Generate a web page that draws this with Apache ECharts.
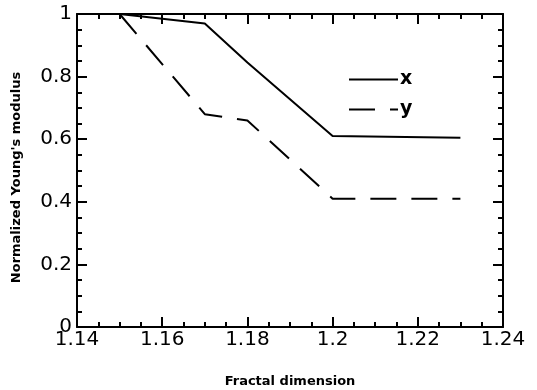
<!DOCTYPE html>
<html>
<head>
<meta charset="utf-8">
<script src="https://cdn.jsdelivr.net/npm/echarts@6/dist/echarts.min.js"></script>
<style>
  html, body { margin: 0; padding: 0; background: #fff; }
  #chart { width: 537px; height: 390px; }
</style>
</head>
<body>
<div id="chart"></div>
<script>
// 数据 - values
const xSeriesX = [1.15, 1.17, 1.18, 1.2, 1.23];
const xSeriesY = [1.0, 0.97, 0.845, 0.61, 0.605];
const ySeriesX = [1.15, 1.17, 1.18, 1.2, 1.23];
const ySeriesY = [1.0, 0.68, 0.66, 0.41, 0.41];

const xMin = 1.14, xMax = 1.24, xStep = 0.02;
const yMin = 0, yMax = 1, yStep = 0.2;

const font = 'DejaVu Sans';

const pairs = (xs, ys) => xs.map((v, i) => [v, ys[i]]);

// common axis style: thick black line, ticks pointing inward
const axisBase = {
  axisLine: { show: true, onZero: false, lineStyle: { color: '#000', width: 2 } },
  axisTick: { show: true, inside: true, length: 10, lineStyle: { color: '#000', width: 2 } },
  minorTick: { show: true, splitNumber: 4, length: 5, lineStyle: { color: '#000', width: 2 } },
  splitLine: { show: false },
  minorSplitLine: { show: false }
};

const chart = echarts.init(document.getElementById('chart'));
chart.setOption({
  animation: false,
  backgroundColor: '#fff',
  // keep the plot box fixed, don't shrink it to fit the axis names
  grid: { left: 77, right: 34, top: 14, bottom: 63, outerBoundsMode: 'none' },
  legend: {
    orient: 'vertical',
    left: 343,
    top: 65,
    itemWidth: 49,
    itemHeight: 14,
    itemGap: 11,
    data: ['x', 'y'],
    // hide the circle that line series put in the legend icon
    itemStyle: { opacity: 0, color: 'rgba(0,0,0,0)', borderWidth: 0 },
    textStyle: { fontFamily: font, fontSize: 19, fontWeight: 'bold', color: '#000', padding: [0, 0, 0, -3] }
  },
  xAxis: [
    Object.assign({}, axisBase, {
      type: 'value', position: 'bottom', min: xMin, max: xMax, interval: xStep,
      name: 'Fractal dimension', nameLocation: 'middle', nameGap: 48,
      nameTextStyle: { fontFamily: font, fontSize: 13, fontWeight: 'bold', color: '#000' },
      axisLabel: { fontFamily: font, fontSize: 20, color: '#000', margin: 3 }
    }),
    Object.assign({}, axisBase, {
      type: 'value', position: 'top', min: xMin, max: xMax, interval: xStep,
      axisLabel: { show: false }
    })
  ],
  yAxis: [
    Object.assign({}, axisBase, {
      type: 'value', position: 'left', min: yMin, max: yMax, interval: yStep,
      name: "Normalized Young's modulus", nameLocation: 'middle', nameGap: 54,
      nameTextStyle: { fontFamily: font, fontSize: 13, fontWeight: 'bold', color: '#000', padding: [0, 14, 0, 0] },
      axisLabel: { fontFamily: font, fontSize: 20, color: '#000', margin: 5 }
    }),
    Object.assign({}, axisBase, {
      type: 'value', position: 'right', min: yMin, max: yMax, interval: yStep,
      axisLabel: { show: false }
    })
  ],
  series: [
    {
      name: 'x',
      type: 'line',
      symbol: 'none',
      data: pairs(xSeriesX, xSeriesY),
      lineStyle: { color: '#000', width: 2 },
      itemStyle: { color: '#000' }
    },
    {
      name: 'y',
      type: 'line',
      symbol: 'none',
      data: pairs(ySeriesX, ySeriesY),
      lineStyle: { color: '#000', width: 2, type: [26, 15] },
      itemStyle: { color: '#000' }
    }
  ]
});
</script>
</body>
</html>
